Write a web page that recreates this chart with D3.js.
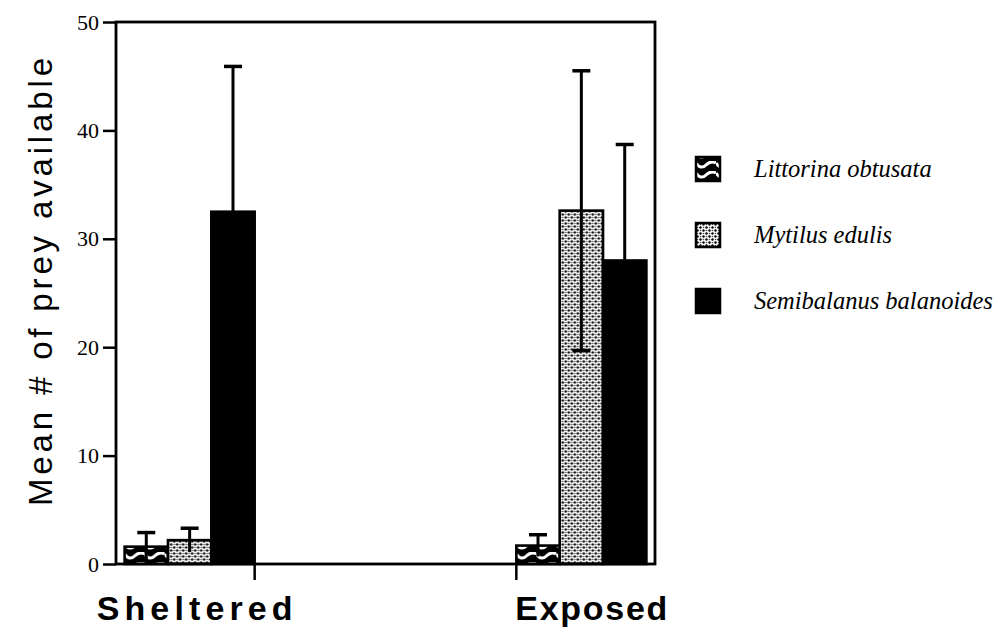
<!DOCTYPE html>
<html>
<head>
<meta charset="utf-8">
<script src="https://cdn.jsdelivr.net/npm/d3@7"></script>
<style>
  html, body { margin: 0; padding: 0; background: #fff; }
  svg { display: block; }
</style>
</head>
<body>
<svg id="chart" width="1001" height="633"></svg>
<script>
// ---- data ----
const categories = ["Sheltered", "Exposed"];
const species = ["Littorina obtusata", "Mytilus edulis", "Semibalanus balanoides"];
const shelteredMeans = [1.6, 2.2, 32.5];
const shelteredSE = [1.3, 1.1, 13.4];
const exposedMeans = [1.7, 32.6, 28.0];
const exposedSE = [1.0, 12.9, 10.7];
const yTicks = [0, 10, 20, 30, 40, 50];
const yLabel = "Mean # of prey available";

const rows = [
  { cat: "Sheltered", means: shelteredMeans, se: shelteredSE },
  { cat: "Exposed", means: exposedMeans, se: exposedSE }
];

const svg = d3.select("#chart");
const plot = { left: 116, right: 655, top: 22, bottom: 564 };

// ---- patterns ----
const defs = svg.append("defs");
const wave = defs.append("pattern").attr("id", "pat-wave")
  .attr("patternUnits", "userSpaceOnUse").attr("width", 20).attr("height", 10)
  .attr("x", 0).attr("y", 2);
wave.append("rect").attr("width", 20).attr("height", 10).attr("fill", "#000");
wave.append("path").attr("d", "M0,2 Q5,9 10,4 Q15,-1 20,2")
  .attr("fill", "none").attr("stroke", "#fff").attr("stroke-width", 3);

const dots = defs.append("pattern").attr("id", "pat-dots")
  .attr("patternUnits", "userSpaceOnUse").attr("width", 6).attr("height", 6);
dots.append("rect").attr("width", 6).attr("height", 6).attr("fill", "#fff");
[[1.5, 1.5], [4.5, 4.5]].forEach(([cx, cy]) => {
  dots.append("circle").attr("cx", cx).attr("cy", cy).attr("r", 1.2).attr("fill", "#000");
});
[[4.5, 1.5], [1.5, 4.5]].forEach(([cx, cy]) => {
  dots.append("circle").attr("cx", cx).attr("cy", cy).attr("r", 0.8).attr("fill", "#444");
});

const fills = ["url(#pat-wave)", "url(#pat-dots)", "#000"];

// ---- scales ----
const x = d3.scaleBand().domain(categories)
  .range([plot.left, plot.right]).paddingInner(0.668).paddingOuter(0.022);
const xs = d3.scaleBand().domain(species).range([0, x.bandwidth()]);
const y = d3.scaleLinear().domain([0, 50]).range([plot.bottom, plot.top]);

// ---- bars ----
const groups = svg.append("g").selectAll("g").data(rows).join("g")
  .attr("transform", d => `translate(${x(d.cat)},0)`);

groups.selectAll("rect").data(d => d.means.map((m, i) => ({ m, i, sp: species[i] })))
  .join("rect")
  .attr("x", d => xs(d.sp))
  .attr("y", d => y(d.m))
  .attr("width", xs.bandwidth())
  .attr("height", d => y(0) - y(d.m))
  .attr("fill", d => fills[d.i])
  .attr("stroke", "#000").attr("stroke-width", 2.6);

// ---- error bars ----
const capW = 9;
const eb = groups.selectAll("g.err").data(d => d.means.map((m, i) => ({ m, s: d.se[i], sp: species[i] })))
  .join("g").attr("class", "err")
  .attr("transform", d => `translate(${xs(d.sp) + xs.bandwidth() / 2},0)`);
eb.append("line").attr("x1", 0).attr("x2", 0)
  .attr("y1", d => y(d.m - d.s)).attr("y2", d => y(d.m + d.s))
  .attr("stroke", "#000").attr("stroke-width", 3);
eb.append("line").attr("x1", -capW).attr("x2", capW)
  .attr("y1", d => y(d.m + d.s)).attr("y2", d => y(d.m + d.s))
  .attr("stroke", "#000").attr("stroke-width", 3.5);
eb.filter(d => d.m - d.s > 3).append("line").attr("x1", -capW).attr("x2", capW)
  .attr("y1", d => y(d.m - d.s)).attr("y2", d => y(d.m - d.s))
  .attr("stroke", "#000").attr("stroke-width", 3.5);

// ---- frame ----
svg.append("rect")
  .attr("x", plot.left).attr("y", plot.top)
  .attr("width", plot.right - plot.left).attr("height", plot.bottom - plot.top)
  .attr("fill", "none").attr("stroke", "#000").attr("stroke-width", 2.8);

// ---- y axis ----
const yAxis = svg.append("g").attr("transform", `translate(${plot.left},0)`)
  .call(d3.axisLeft(y).tickValues(yTicks).tickSize(13).tickPadding(4).tickFormat(d3.format("d")));
yAxis.select(".domain").remove();
yAxis.selectAll(".tick line").attr("stroke", "#000").attr("stroke-width", 2.5);
yAxis.selectAll(".tick text")
  .attr("font-family", "'Liberation Serif', 'Times New Roman', serif")
  .attr("font-size", 22).attr("fill", "#000");

// ---- category ticks and labels ----
const catTicks = [x("Sheltered") + x.bandwidth(), x("Exposed")];
svg.append("g").selectAll("line").data(catTicks).join("line")
  .attr("x1", d => d).attr("x2", d => d)
  .attr("y1", plot.bottom).attr("y2", plot.bottom + 16)
  .attr("stroke", "#000").attr("stroke-width", 2.5);

const catWidths = { Sheltered: 196, Exposed: 152 };
svg.append("g").selectAll("text").data(categories).join("text")
  .attr("x", d => x(d) + x.bandwidth() / 2 + (d === "Exposed" ? 10 : 5))
  .attr("y", 620)
  .attr("text-anchor", "middle")
  .attr("font-family", "'Liberation Sans', Arial, sans-serif")
  .attr("font-weight", "bold").attr("font-size", 34)
  .attr("textLength", d => catWidths[d]).attr("lengthAdjust", "spacing")
  .text(d => d);

// ---- y label ----
svg.append("text")
  .attr("transform", "translate(52,282) rotate(-90)")
  .attr("text-anchor", "middle")
  .attr("font-family", "'Liberation Sans', Arial, sans-serif")
  .attr("font-size", 33)
  .attr("textLength", 448).attr("lengthAdjust", "spacing")
  .text(yLabel);

// ---- legend ----
const legY = d3.scalePoint().domain(species).range([169, 301]);
const sw = 24;
const leg = svg.append("g").selectAll("g").data(species).join("g")
  .attr("transform", d => `translate(696,${legY(d)})`);
leg.append("rect").attr("x", 0).attr("y", -sw / 2).attr("width", sw).attr("height", sw)
  .attr("fill", (d, i) => fills[i]).attr("stroke", "#000").attr("stroke-width", 2.5);
leg.append("text").attr("x", 58).attr("y", 8)
  .attr("font-family", "'Liberation Serif', 'Times New Roman', serif")
  .attr("font-style", "italic").attr("font-size", 24.5)
  .text(d => d);
</script>
</body>
</html>
